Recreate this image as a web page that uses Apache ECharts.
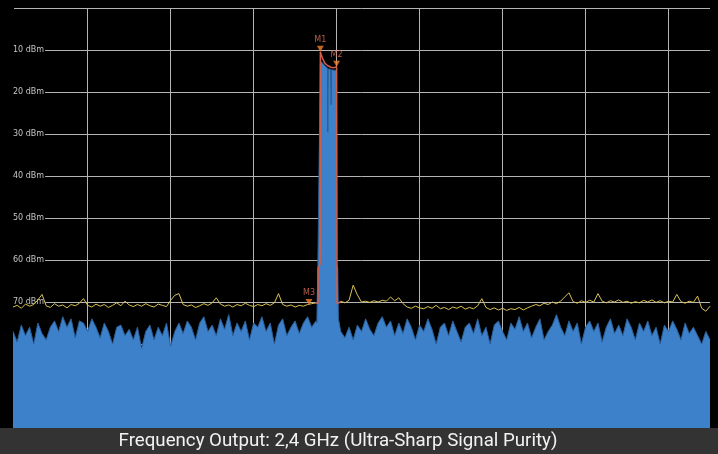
<!DOCTYPE html>
<html>
<head>
<meta charset="utf-8">
<script src="https://cdn.jsdelivr.net/npm/echarts@6/dist/echarts.min.js"></script>
<style>
html,body{margin:0;padding:0;background:#000;}
#chart{width:718px;height:454px;}
</style>
</head>
<body>
<div id="chart"></div>
<script>
// ---- data ----
const caption = 'Frequency Output: 2,4 GHz (Ultra-Sharp Signal Purity)';
const gridFreqs = [2370, 2380, 2390, 2400, 2410, 2420, 2430, 2440]; // MHz, vertical graticule
const labelledLevels = [10, 20, 30, 40, 50, 60, 70];                 // dBm labels shown
const binStart = 2361;   // MHz, first bin
const binStep = 0.5;     // MHz per bin

// live trace (blue fill), dBm below reference, one value per bin; null = carrier bins
const liveLevel = [
  77, 79.5, 75.5, 78, 76, 80, 75, 77.5, 79, 76,
  74.5, 77, 73.5, 76, 74, 78.5, 74.5, 75, 77, 74,
  76, 78.5, 75, 77, 80, 76, 75.5, 78, 76.5, 79,
  76, 81, 77, 75.5, 79, 76, 78, 75, 80.5, 77,
  75, 77.5, 74.5, 76, 79, 75, 73.5, 77, 75.5, 78,
  74, 76.5, 73, 78, 75, 77, 74.5, 79, 75, 76,
  73.5, 77, 75, 80, 75.5, 74, 78, 76, 74.5, 77.5,
  75, 73.5, 76, 74.5, null, null, null, null, null, 77,
  78.5, 76, 79, 75.5, 77, 74, 76.5, 78, 75, 73.5,
  76, 74.5, 78, 75, 77.5, 74, 76, 79, 75.5, 77,
  74, 76.5, 80, 76, 75, 78, 74.5, 77, 79.5, 76,
  75, 77.5, 74, 78, 76, 80, 75.5, 74.5, 77, 79,
  75, 76.5, 73.5, 77, 75, 78.5, 76, 74, 79, 77,
  75.5, 73, 76, 78, 74.5, 77, 75, 80, 76, 74.5,
  77, 75, 79.5, 76, 74, 77.5, 75.5, 78, 74, 76,
  79, 75, 77, 74.5, 78, 76, 80, 75.5, 77, 74.5,
  76.5, 79, 75, 77.5, 76, 78, 80, 77, 79
];

// max-hold trace (yellow), one value per bin; null = carrier bins
const maxHoldLevel = [
  71.2, 70.8, 71.5, 70.5, 71.0, 70.6, 69.5, 68.2, 70.9, 71.3,
  70.4, 71.0, 70.7, 71.4, 70.6, 70.9, 70.3, 69.2, 70.8, 71.2,
  70.5, 71.0, 70.6, 71.3, 70.8, 70.2, 70.9, 69.8, 70.7, 71.1,
  70.6, 71.0, 70.4, 70.9, 71.2, 70.5, 70.8, 71.1, 69.6, 68.4,
  68.0, 70.6, 71.0, 70.7, 71.3, 70.9, 70.4, 70.8, 70.2, 69.0,
  70.5, 71.0, 70.7, 71.2, 70.6, 70.9, 70.3, 70.8, 71.1, 70.6,
  70.9, 70.4, 70.8, 70.2, 68.0, 70.6, 71.0, 70.7, 71.2, 70.8,
  71.0, 70.6, 70.4, 70.2, null, null, null, null, null, 69.8,
  70.2, 69.6, 66.0, 68.3, 70.0, 69.8, 70.1, 69.7, 70.0, 69.6,
  69.8, 68.8, 69.7, 69.0, 70.4, 71.2, 71.5, 71.0, 71.4, 71.6,
  71.1, 71.5, 70.8, 71.6, 71.3, 71.8, 71.2, 71.5, 71.0, 71.7,
  71.3, 71.6, 70.9, 69.2, 71.3, 71.8, 71.4, 71.9, 71.5, 72.0,
  71.6, 71.8, 71.3, 71.9, 71.4, 71.0, 70.6, 70.9, 70.3, 70.6,
  70.0, 70.4, 69.8, 68.8, 67.8, 69.9, 70.3, 69.7, 70.1, 69.6,
  70.0, 68.0, 69.8, 70.2, 69.7, 70.0, 69.5, 70.1, 69.8, 70.3,
  69.9, 70.2, 69.6, 70.0, 69.5, 70.1, 69.7, 70.2, 69.8, 70.0,
  68.2, 69.9, 70.3, 69.8, 70.1, 68.6, 71.5, 72.2, 71.0
];

// carrier, live trace (blue)
const carrierFreq  = [2397.62, 2397.74, 2397.98, 2398.05, 2398.30, 2398.60, 2398.90, 2398.94, 2398.98, 2399.30, 2399.34, 2399.38, 2399.70, 2399.98, 2400.02, 2400.14, 2400.22];
const carrierLevel = [75, 61, 61, 12.6, 13.1, 13.8, 14.3, 29.5, 14.5, 14.6, 23, 14.7, 14.8, 14.8, 61, 62, 74];

// carrier, max-hold outline (red)
const outlineFreq  = [2397.40, 2397.60, 2397.75, 2397.78, 2398.01, 2398.04, 2398.30, 2398.60, 2398.90, 2399.30, 2399.70, 2400.00, 2400.05, 2400.30, 2400.50];
const outlineLevel = [70.2, 70.6, 70.3, 62, 61, 10.4, 12.0, 13.2, 13.7, 14.1, 14.2, 14.0, 70.3, 70.2, 69.8];

// markers
const markerNames = ['M1', 'M2', 'M3'];
const markerFreq  = [2398.04, 2400.00, 2396.67];
const markerLevel = [10.4, 14.0, 70.7];

// ---- build series data ----
function binned(levels) {
  return levels.map((v, i) => [binStart + i * binStep, v]);
}
const liveData = binned(liveLevel).filter(p => p[1] !== null)
  .concat(carrierFreq.map((f, i) => [f, carrierLevel[i]]))
  .sort((a, b) => a[0] - b[0]);
const maxHoldData = binned(maxHoldLevel).map(p => p[1] === null ? [p[0], '-'] : p);
const outlineData = outlineFreq.map((f, i) => [f, outlineLevel[i]]);
const markerData = markerNames.map((n, i) => ({ name: n, value: [markerFreq[i], markerLevel[i]] }));

const chart = echarts.init(document.getElementById('chart'), null, { renderer: 'canvas' });
chart.setOption({
  backgroundColor: '#000',
  animation: false,
  grid: { left: 13, right: 8, top: 8, bottom: 26 },
  xAxis: {
    type: 'value', min: 2361, max: 2445,
    axisLine: { show: false }, axisTick: { show: false },
    axisLabel: { show: false }, splitLine: { show: false }
  },
  yAxis: {
    type: 'value', inverse: true, min: 0, max: 100, interval: 10,
    axisLine: { show: false }, axisTick: { show: false },
    axisLabel: {
      inside: true, margin: 0,
      formatter: v => labelledLevels.indexOf(v) >= 0 ? v + ' dBm' : '',
      color: '#c4c4c4', fontSize: 8, fontFamily: 'DejaVu Sans',
      backgroundColor: '#000', padding: [1, 1, 1, 0]
    },
    splitLine: { lineStyle: { color: '#b4b4b4', width: 1 } }
  },
  series: [
    {
      type: 'line', data: [], z: 1, silent: true,
      markLine: {
        z: 1, silent: true, symbol: 'none', label: { show: false },
        lineStyle: { color: '#b4b4b4', width: 1, type: 'solid' },
        emphasis: { disabled: true },
        data: gridFreqs.map(f => ({ xAxis: f }))
      }
    },
    {
      type: 'line', data: liveData, z: 2, symbol: 'none', silent: true,
      lineStyle: { color: '#2c5f98', width: 1 },
      areaStyle: { color: '#3d81cb', opacity: 1, origin: 'end' }
    },
    {
      type: 'line', data: maxHoldData, z: 3, symbol: 'none', silent: true,
      connectNulls: false,
      lineStyle: { color: '#d9c255', width: 1 }
    },
    {
      type: 'line', data: outlineData, z: 3, symbol: 'none', silent: true,
      lineStyle: { color: '#cf5f4a', width: 1.5 }
    },
    {
      type: 'scatter', data: markerData, z: 4, silent: true,
      symbol: 'triangle', symbolRotate: 180, symbolSize: [7, 6], symbolOffset: [0, -3],
      itemStyle: { color: '#f4802c' },
      label: {
        show: true, position: 'top', distance: 2, formatter: '{b}',
        color: '#e0765c', fontSize: 8, fontFamily: 'DejaVu Sans'
      }
    }
  ],
  graphic: [
    { type: 'rect', z: 100, shape: { x: 0, y: 428, width: 718, height: 26 }, style: { fill: '#333333' } },
    { type: 'text', z: 101, style: { text: caption, x: 338, y: 441, align: 'center', verticalAlign: 'middle',
      fill: '#f2f2f2', font: '18.7px Roboto' } }
  ]
});
</script>
</body>
</html>
